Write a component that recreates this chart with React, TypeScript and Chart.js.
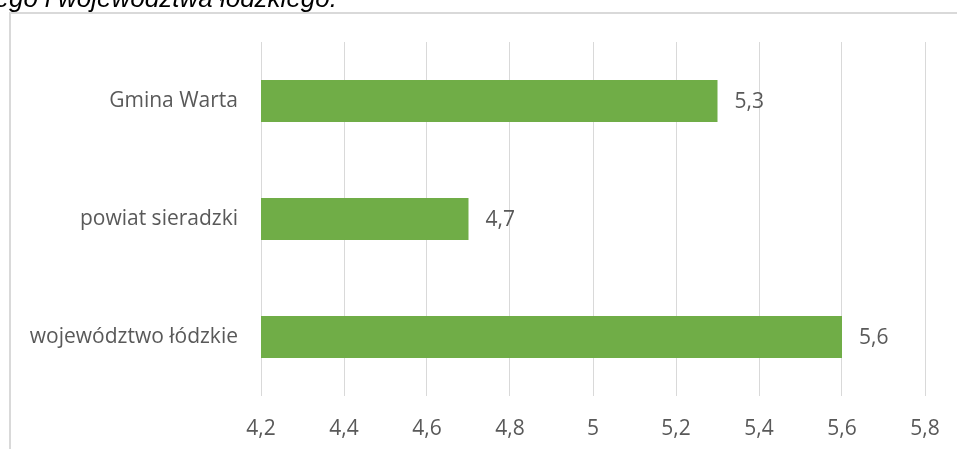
import React, { useEffect, useRef } from "react";
import { Chart, registerables } from "chart.js";

Chart.register(...registerables);

const categories = ["Gmina Warta", "powiat sieradzki", "województwo łódzkie"];
const values = [5.3, 4.7, 5.6];
const tickValues = [4.2, 4.4, 4.6, 4.8, 5.0, 5.2, 5.4, 5.6, 5.8];
const titleText = "ego i województwa łódzkiego.";

const TEXT = "#595959";
const GRID = "#D9D9D9";
const BAR = "#70AD47";
const FONT = "'Open Sans', 'Noto Sans', sans-serif";

const fmt = (v: number) => {
  const s = Number.isInteger(v) ? String(v) : v.toFixed(1);
  return s.replace(".", ",");
};

export default function App() {
  const ref = useRef<HTMLCanvasElement | null>(null);

  useEffect(() => {
    if (!ref.current) return;

    const decor = {
      id: "decor",
      beforeDraw(chart: any) {
        const ctx = chart.ctx;
        ctx.save();
        ctx.fillStyle = "#fff";
        ctx.fillRect(0, 0, chart.width, chart.height);
        ctx.strokeStyle = GRID;
        ctx.lineWidth = 2;
        ctx.beginPath();
        ctx.moveTo(10, 13);
        ctx.lineTo(chart.width, 13);
        ctx.moveTo(10, 12);
        ctx.lineTo(10, chart.height);
        ctx.stroke();
        ctx.fillStyle = "#000";
        ctx.font = "italic 26px 'Liberation Sans', Arial, sans-serif";
        ctx.textBaseline = "alphabetic";
        ctx.textAlign = "right";
        ctx.fillText(titleText, 337, 7);
        ctx.restore();
      },
      afterDatasetsDraw(chart: any) {
        const ctx = chart.ctx;
        const meta = chart.getDatasetMeta(0);
        ctx.save();
        ctx.fillStyle = TEXT;
        ctx.font = `21px ${FONT}`;
        ctx.textAlign = "left";
        ctx.textBaseline = "middle";
        meta.data.forEach((el: any, i: number) => {
          ctx.fillText(fmt(values[i]), el.x + 17, el.y + 1);
        });
        ctx.restore();
      },
    };

    const chart = new Chart(ref.current, {
      type: "bar",
      data: {
        labels: categories,
        datasets: [
          {
            data: values,
            backgroundColor: BAR,
            borderWidth: 0,
            categoryPercentage: 1,
            barPercentage: 0.356,
          },
        ],
      },
      options: {
        indexAxis: "y",
        animation: false,
        responsive: false,
        maintainAspectRatio: false,
        layout: { padding: { left: 0, right: 32, top: 42, bottom: 0 } },
        plugins: {
          legend: { display: false },
          tooltip: { enabled: false },
          title: { display: false },
        },
        scales: {
          x: {
            type: "linear",
            min: 4.2,
            max: 5.8,
            afterBuildTicks(scale: any) {
              scale.ticks = tickValues.map((v) => ({ value: v }));
            },
            afterFit(scale: any) {
              scale.height = 53;
              scale.paddingLeft = 0;
              scale.paddingRight = 0;
            },
            border: { display: false },
            grid: { color: GRID, lineWidth: 1, drawTicks: false },
            ticks: {
              color: TEXT,
              font: { family: FONT, size: 21 },
              padding: 20,
              maxRotation: 0,
              callback: (v: any) => fmt(Number(v)),
            },
          },
          y: {
            afterFit(scale: any) {
              scale.width = 261;
            },
            border: { display: false },
            grid: { display: false, drawTicks: false },
            ticks: {
              color: TEXT,
              font: { family: FONT, size: 21 },
              padding: 23,
            },
          },
        },
      },
      plugins: [decor],
    });

    return () => chart.destroy();
  }, []);

  return (
    <div style={{ position: "fixed", left: 0, top: 0, width: 957, height: 449 }}>
      <canvas ref={ref} width={957} height={449} style={{ display: "block" }} />
    </div>
  );
}
